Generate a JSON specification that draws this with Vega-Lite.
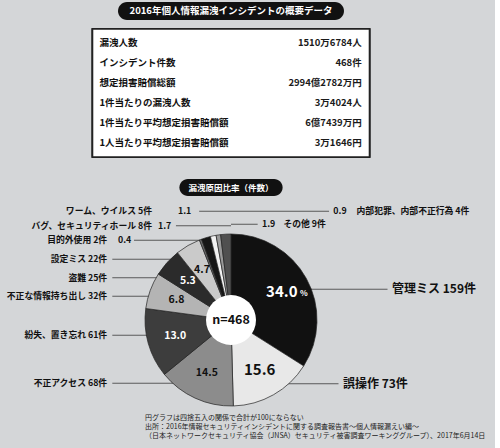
{
  "$schema": "https://vega.github.io/schema/vega-lite/v6.json",
  "background": "#d4d6d8",
  "padding": {"top": 2, "left": 0, "right": 8, "bottom": 10},
  "config": {
    "view": {"stroke": null},
    "font": "Noto Sans CJK JP",
    "text": {"font": "Noto Sans CJK JP", "fontWeight": "bold", "color": "#111111"},
    "rule": {"color": "#3a3a3a", "strokeWidth": 0.8}
  },
  "datasets": {
    "headings": [
      {"id": 1, "heading": "2016年個人情報漏洩インシデントの概要データ"},
      {"id": 2, "heading": "漏洩原因比率（件数）"}
    ],
    "summary": [
      {"i": 1, "item": "漏洩人数", "val": "1510万6784人"},
      {"i": 2, "item": "インシデント件数", "val": "468件"},
      {"i": 3, "item": "想定損害賠償総額", "val": "2994億2782万円"},
      {"i": 4, "item": "1件当たりの漏洩人数", "val": "3万4024人"},
      {"i": 5, "item": "1件当たり平均想定損害賠償額", "val": "6億7439万円"},
      {"i": 6, "item": "1人当たり平均想定損害賠償額", "val": "3万1646円"}
    ],
    "causes": [
      {"order": 0, "name": "管理ミス", "label": "管理ミス 159件", "count": 159, "pct": 34.0},
      {"order": 1, "name": "誤操作", "label": "誤操作 73件", "count": 73, "pct": 15.6},
      {"order": 2, "name": "不正アクセス", "label": "不正アクセス 68件", "count": 68, "pct": 14.5},
      {"order": 3, "name": "紛失、置き忘れ", "label": "紛失、置き忘れ 61件", "count": 61, "pct": 13.0},
      {"order": 4, "name": "不正な情報持ち出し", "label": "不正な情報持ち出し 32件", "count": 32, "pct": 6.8},
      {"order": 5, "name": "盗難", "label": "盗難 25件", "count": 25, "pct": 5.3},
      {"order": 6, "name": "設定ミス", "label": "設定ミス 22件", "count": 22, "pct": 4.7},
      {"order": 7, "name": "目的外使用", "label": "目的外使用 2件", "count": 2, "pct": 0.4},
      {"order": 8, "name": "バグ、セキュリティホール", "label": "バグ、セキュリティホール 8件", "count": 8, "pct": 1.7},
      {"order": 9, "name": "ワーム、ウイルス", "label": "ワーム、ウイルス 5件", "count": 5, "pct": 1.1},
      {"order": 10, "name": "内部犯罪、内部不正行為", "label": "内部犯罪、内部不正行為 4件", "count": 4, "pct": 0.9},
      {"order": 11, "name": "その他", "label": "その他 9件", "count": 9, "pct": 1.9}
    ],
    "center": [{"n": "n=468"}],
    "notes": [
      {"line": 1, "note": "円グラフは四捨五入の関係で合計が100にならない"},
      {"line": 2, "note": "出所：2016年情報セキュリティインシデントに関する調査報告書〜個人情報漏えい編〜"},
      {"line": 3, "note": "　　（日本ネットワークセキュリティ協会（JNSA）セキュリティ被害調査ワーキンググループ）、2017年6月14日"}
    ]
  },
  "center": false,
  "spacing": 21,
  "vconcat": [
    {
      "bounds": "flush",
      "spacing": 9,
      "vconcat": [
        {
          "width": 462,
          "height": 18,
          "data": {"name": "headings"},
          "transform": [{"filter": "datum.id == 1"}],
          "layer": [
            {
              "mark": {"type": "rect", "color": "#111111", "cornerRadius": 9},
              "encoding": {
                "x": {"datum": -1.314, "type": "quantitative", "scale": {"domain": [-2.686, 2.686], "nice": false, "zero": false}, "axis": null},
                "x2": {"datum": 1.314}
              }
            },
            {
              "mark": {"type": "text", "color": "white", "fontSize": 9.5},
              "encoding": {"text": {"field": "heading"}}
            }
          ]
        },
        {
          "width": 462,
          "height": 128,
          "data": {"name": "summary"},
          "layer": [
            {
              "mark": {"type": "rect", "fill": "white", "stroke": "#222222", "strokeWidth": 1.5},
              "encoding": {
                "x": {"datum": -1.61, "type": "quantitative", "scale": {"domain": [-2.686, 2.686], "nice": false, "zero": false}, "axis": null},
                "x2": {"datum": 1.61}
              }
            },
            {
              "encoding": {
                "y": {
                  "field": "item",
                  "type": "nominal",
                  "sort": {"field": "i", "op": "min"},
                  "scale": {"type": "point", "padding": 0.7},
                  "axis": null
                }
              },
              "layer": [
                {
                  "mark": {"type": "text", "align": "left", "fontSize": 9.5},
                  "encoding": {
                    "x": {"datum": -1.53, "type": "quantitative", "scale": {"domain": [-2.686, 2.686], "nice": false, "zero": false}, "axis": null},
                    "text": {"field": "item"}
                  }
                },
                {
                  "mark": {"type": "text", "align": "right", "fontSize": 9.5, "color": "#1a1a1a"},
                  "encoding": {
                    "x": {"datum": 1.52, "type": "quantitative", "scale": {"domain": [-2.686, 2.686], "nice": false, "zero": false}, "axis": null},
                    "text": {"field": "val"}
                  }
                }
              ]
            }
          ]
        }
      ]
    },
    {
      "bounds": "flush",
      "spacing": 8,
      "vconcat": [
        {
          "width": 462,
          "height": 17,
          "data": {"name": "headings"},
          "transform": [{"filter": "datum.id == 2"}],
          "layer": [
            {
              "mark": {"type": "rect", "color": "#111111", "cornerRadius": 8.5},
              "encoding": {
                "x": {"datum": -0.6, "type": "quantitative", "scale": {"domain": [-2.686, 2.686], "nice": false, "zero": false}, "axis": null},
                "x2": {"datum": 0.6}
              }
            },
            {
              "mark": {"type": "text", "color": "white", "fontSize": 8.5},
              "encoding": {"text": {"field": "heading"}}
            }
          ]
        },
        {
          "width": 462,
          "height": 232,
          "data": {"name": "causes"},
          "resolve": {"scale": {"y": "independent"}},
          "layer": [
            {
              "transform": [{"filter": "datum.order >= 7 && datum.order <= 9"}],
              "encoding": {
                "y": {"field": "order", "type": "quantitative", "scale": {"domain": [-6.5, 9.5], "nice": false, "zero": false}, "axis": null}
              },
              "layer": [
                {
                  "transform": [{"filter": "datum.order == 7"}],
                  "mark": "rule",
                  "encoding": {
                    "x": {"datum": -1.128, "type": "quantitative", "scale": {"domain": [-2.686, 2.686], "nice": false, "zero": false}, "axis": null},
                    "x2": {"datum": 0}
                  }
                },
                {
                  "transform": [{"filter": "datum.order == 8"}],
                  "mark": "rule",
                  "encoding": {
                    "x": {"datum": -0.64, "type": "quantitative", "scale": {"domain": [-2.686, 2.686], "nice": false, "zero": false}, "axis": null},
                    "x2": {"datum": 0}
                  }
                },
                {
                  "transform": [{"filter": "datum.order == 9"}],
                  "mark": "rule",
                  "encoding": {
                    "x": {"datum": -0.37, "type": "quantitative", "scale": {"domain": [-2.686, 2.686], "nice": false, "zero": false}, "axis": null},
                    "x2": {"datum": 0}
                  }
                },
                {
                  "transform": [{"filter": "datum.order == 7"}],
                  "mark": {"type": "text", "align": "right", "fontSize": 8.8},
                  "encoding": {
                    "x": {"datum": -1.44, "type": "quantitative", "scale": {"domain": [-2.686, 2.686], "nice": false, "zero": false}, "axis": null},
                    "text": {"field": "label"}
                  }
                },
                {
                  "transform": [{"filter": "datum.order == 7"}],
                  "mark": {"type": "text", "align": "left", "fontSize": 8.8},
                  "encoding": {
                    "x": {"datum": -1.314, "type": "quantitative", "scale": {"domain": [-2.686, 2.686], "nice": false, "zero": false}, "axis": null},
                    "text": {"field": "pct", "type": "quantitative", "format": ".1f"}
                  }
                },
                {
                  "transform": [{"filter": "datum.order >= 8"}],
                  "mark": {"type": "text", "align": "right", "fontSize": 8.8},
                  "encoding": {
                    "x": {"datum": -0.919, "type": "quantitative", "scale": {"domain": [-2.686, 2.686], "nice": false, "zero": false}, "axis": null},
                    "text": {"field": "label"}
                  }
                },
                {
                  "transform": [{"filter": "datum.order == 8"}],
                  "mark": {"type": "text", "align": "left", "fontSize": 8.8},
                  "encoding": {
                    "x": {"datum": -0.849, "type": "quantitative", "scale": {"domain": [-2.686, 2.686], "nice": false, "zero": false}, "axis": null},
                    "text": {"field": "pct", "type": "quantitative", "format": ".1f"}
                  }
                },
                {
                  "transform": [{"filter": "datum.order == 9"}],
                  "mark": {"type": "text", "align": "left", "fontSize": 8.8},
                  "encoding": {
                    "x": {"datum": -0.616, "type": "quantitative", "scale": {"domain": [-2.686, 2.686], "nice": false, "zero": false}, "axis": null},
                    "text": {"field": "pct", "type": "quantitative", "format": ".1f"}
                  }
                }
              ]
            },
            {
              "transform": [{"filter": "datum.order >= 4 && datum.order <= 6"}],
              "encoding": {
                "y": {"field": "order", "type": "quantitative", "scale": {"domain": [-3.554, 8.986], "nice": false, "zero": false}, "axis": null}
              },
              "layer": [
                {
                  "mark": "rule",
                  "encoding": {
                    "x": {"datum": -1.38, "type": "quantitative", "scale": {"domain": [-2.686, 2.686], "nice": false, "zero": false}, "axis": null},
                    "x2": {"datum": 0}
                  }
                },
                {
                  "mark": {"type": "text", "align": "right", "fontSize": 8.8},
                  "encoding": {
                    "x": {"datum": -1.44, "type": "quantitative", "scale": {"domain": [-2.686, 2.686], "nice": false, "zero": false}, "axis": null},
                    "text": {"field": "label"}
                  }
                }
              ]
            },
            {
              "transform": [{"filter": "datum.order >= 2 && datum.order <= 3"}],
              "encoding": {
                "y": {"field": "order", "type": "quantitative", "scale": {"domain": [0.901, 5.734], "nice": false, "zero": false}, "axis": null}
              },
              "layer": [
                {
                  "mark": "rule",
                  "encoding": {
                    "x": {"datum": -1.38, "type": "quantitative", "scale": {"domain": [-2.686, 2.686], "nice": false, "zero": false}, "axis": null},
                    "x2": {"datum": 0}
                  }
                },
                {
                  "mark": {"type": "text", "align": "right", "fontSize": 8.8},
                  "encoding": {
                    "x": {"datum": -1.44, "type": "quantitative", "scale": {"domain": [-2.686, 2.686], "nice": false, "zero": false}, "axis": null},
                    "text": {"field": "label"}
                  }
                }
              ]
            },
            {
              "transform": [{"filter": "datum.order >= 10"}],
              "encoding": {
                "y": {"field": "order", "type": "quantitative", "scale": {"domain": [9.442, 27.288], "reverse": true, "nice": false, "zero": false}, "axis": null}
              },
              "layer": [
                {
                  "transform": [{"filter": "datum.order == 10"}],
                  "mark": "rule",
                  "encoding": {
                    "x": {"datum": 0, "type": "quantitative", "scale": {"domain": [-2.686, 2.686], "nice": false, "zero": false}, "axis": null},
                    "x2": {"datum": 1.14}
                  }
                },
                {
                  "transform": [{"filter": "datum.order == 11"}],
                  "mark": "rule",
                  "encoding": {
                    "x": {"datum": 0, "type": "quantitative", "scale": {"domain": [-2.686, 2.686], "nice": false, "zero": false}, "axis": null},
                    "x2": {"datum": 0.31}
                  }
                },
                {
                  "transform": [{"filter": "datum.order == 10"}],
                  "mark": {"type": "text", "align": "left", "fontSize": 8.8},
                  "encoding": {
                    "x": {"datum": 1.19, "type": "quantitative", "scale": {"domain": [-2.686, 2.686], "nice": false, "zero": false}, "axis": null},
                    "text": {"field": "pct", "type": "quantitative", "format": ".1f"}
                  }
                },
                {
                  "transform": [{"filter": "datum.order == 10"}],
                  "mark": {"type": "text", "align": "left", "fontSize": 8.8},
                  "encoding": {
                    "x": {"datum": 1.46, "type": "quantitative", "scale": {"domain": [-2.686, 2.686], "nice": false, "zero": false}, "axis": null},
                    "text": {"field": "label"}
                  }
                },
                {
                  "transform": [{"filter": "datum.order == 11"}],
                  "mark": {"type": "text", "align": "left", "fontSize": 8.8},
                  "encoding": {
                    "x": {"datum": 0.36, "type": "quantitative", "scale": {"domain": [-2.686, 2.686], "nice": false, "zero": false}, "axis": null},
                    "text": {"field": "pct", "type": "quantitative", "format": ".1f"}
                  }
                },
                {
                  "transform": [{"filter": "datum.order == 11"}],
                  "mark": {"type": "text", "align": "left", "fontSize": 8.8},
                  "encoding": {
                    "x": {"datum": 0.61, "type": "quantitative", "scale": {"domain": [-2.686, 2.686], "nice": false, "zero": false}, "axis": null},
                    "text": {"field": "label"}
                  }
                }
              ]
            },
            {
              "transform": [{"filter": "datum.order <= 1"}],
              "encoding": {
                "y": {"field": "order", "type": "quantitative", "scale": {"domain": [-0.902, 1.553], "reverse": true, "nice": false, "zero": false}, "axis": null}
              },
              "layer": [
                {
                  "transform": [{"filter": "datum.order == 0"}],
                  "mark": "rule",
                  "encoding": {
                    "x": {"datum": 0, "type": "quantitative", "scale": {"domain": [-2.686, 2.686], "nice": false, "zero": false}, "axis": null},
                    "x2": {"datum": 1.82}
                  }
                },
                {
                  "transform": [{"filter": "datum.order == 1"}],
                  "mark": "rule",
                  "encoding": {
                    "x": {"datum": 0, "type": "quantitative", "scale": {"domain": [-2.686, 2.686], "nice": false, "zero": false}, "axis": null},
                    "x2": {"datum": 1.25}
                  }
                },
                {
                  "transform": [{"filter": "datum.order == 0"}],
                  "mark": {"type": "text", "align": "left", "fontSize": 12},
                  "encoding": {
                    "x": {"datum": 1.872, "type": "quantitative", "scale": {"domain": [-2.686, 2.686], "nice": false, "zero": false}, "axis": null},
                    "text": {"field": "label"}
                  }
                },
                {
                  "transform": [{"filter": "datum.order == 1"}],
                  "mark": {"type": "text", "align": "left", "fontSize": 12},
                  "encoding": {
                    "x": {"datum": 1.302, "type": "quantitative", "scale": {"domain": [-2.686, 2.686], "nice": false, "zero": false}, "axis": null},
                    "text": {"field": "label"}
                  }
                }
              ]
            },
            {
              "mark": {"type": "arc", "outerRadius": 86, "stroke": "#222222", "strokeWidth": 0.7},
              "encoding": {
                "theta": {"field": "count", "type": "quantitative", "stack": true},
                "order": {"field": "order"},
                "color": {
                  "field": "name",
                  "type": "nominal",
                  "scale": {
                    "domain": ["管理ミス", "誤操作", "不正アクセス", "紛失、置き忘れ", "不正な情報持ち出し", "盗難", "設定ミス", "目的外使用", "バグ、セキュリティホール", "ワーム、ウイルス", "内部犯罪、内部不正行為", "その他"],
                    "range": ["#111111", "#e8e8e8", "#8c8c8c", "#3d3d3d", "#b4b4b4", "#2b2b2b", "#cacaca", "#6a6a6a", "#161616", "#f2f2f2", "#9a9a9a", "#505050"]
                  },
                  "legend": null
                }
              }
            },
            {
              "data": {"name": "center"},
              "mark": {"type": "arc", "outerRadius": 25, "theta": 0, "theta2": 6.2832, "fill": "white"}
            },
            {
              "mark": {"type": "text", "radius": 58},
              "encoding": {
                "theta": {"field": "count", "type": "quantitative", "stack": true},
                "order": {"field": "order"},
                "text": {"condition": {"test": "datum.count >= 20", "field": "pct", "type": "quantitative", "format": ".1f"}, "value": ""},
                "size": {"condition": {"test": "datum.count >= 70", "value": 15}, "value": 10.5},
                "color": {"condition": {"test": "datum.name == '管理ミス' || datum.name == '紛失、置き忘れ' || datum.name == '盗難'", "value": "white"}, "value": "#111111"}
              }
            },
            {
              "mark": {"type": "text", "radius": 58, "fontSize": 8, "dx": 22, "dy": 2, "color": "white"},
              "encoding": {
                "theta": {"field": "count", "type": "quantitative", "stack": true},
                "order": {"field": "order"},
                "text": {"condition": {"test": "datum.name == '管理ミス'", "value": "%"}, "value": ""}
              }
            },
            {
              "data": {"name": "center"},
              "mark": {"type": "text", "fontSize": 12.5},
              "encoding": {"text": {"field": "n"}}
            },
            {
              "data": {"name": "notes"},
              "mark": {"type": "text", "align": "left", "fontSize": 7, "fontWeight": "normal", "color": "#222222"},
              "encoding": {
                "x": {"datum": -1.0, "type": "quantitative", "scale": {"domain": [-2.686, 2.686], "nice": false, "zero": false}, "axis": null},
                "y": {"field": "line", "type": "quantitative", "scale": {"domain": [-22.78, 3], "reverse": true, "nice": false, "zero": false}, "axis": null},
                "text": {"field": "note"}
              }
            }
          ]
        }
      ]
    }
  ]
}
